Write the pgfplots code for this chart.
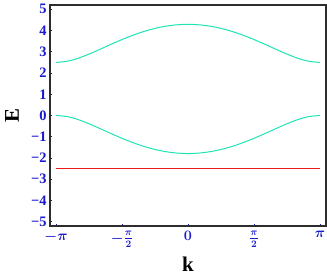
\documentclass[border=0pt]{standalone}
\usepackage{pgfplots}
\pgfplotsset{compat=1.18}
\usepackage{fontspec}
\setmainfont{Liberation Serif}
\definecolor{bandc}{RGB}{30,228,180}
\definecolor{bandr}{RGB}{232,30,30}
\definecolor{tickb}{RGB}{25,25,205}
\definecolor{framec}{RGB}{45,45,45}
\begin{document}
\begin{tikzpicture}
\useasboundingbox (-50bp,-54bp) rectangle (277bp,226bp);
\begin{axis}[
  at={(0,0)}, anchor=south west,
  scale only axis, width=276bp, height=221bp,
  xmin=-3.285, xmax=3.285, ymin=-5.2, ymax=5.2,
  axis line style={color=framec, line width=1.5pt},
  xtick={-3.14159,-1.5708,0,1.5708,3.14159},
  xticklabels={$-\pi$,$-\frac{\pi}{2}$,$0$,$\frac{\pi}{2}$,$\pi$},
  ytick={-5,-4,-3,-2,-1,0,1,2,3,4,5},
  yticklabels={−5,−4,−3,−2,−1,0,1,2,3,4,5},
  xtick pos=bottom, ytick pos=left,
  tick align=inside,
  major tick length=2.5pt,
  every tick/.style={tickb, line width=0.8pt},
  xticklabel style={font=\fontsize{14}{16}\selectfont\boldmath\bfseries, text=tickb, yshift=-2bp},
  yticklabel style={font=\fontsize{14.5}{16}\selectfont\bfseries, text=tickb},
  xlabel={\textbf{k}}, ylabel={\textbf{E}},
  label style={font=\fontsize{21}{23}\selectfont},
  xlabel style={at={(axis description cs:0.5,0)}, anchor=center, yshift=-38bp},
  ylabel style={at={(axis description cs:0,0.5)}, anchor=center, yshift=38bp},
  clip=false,
]
\addplot[bandc, line width=1pt, smooth] coordinates {
(-3.1416,2.499)(-2.8798,2.550)(-2.6180,2.690)(-2.3562,2.889)(-2.0944,3.116)(-1.8326,3.349)(-1.5708,3.574)(-1.3090,3.779)(-1.0472,3.956)(-0.7854,4.099)(-0.5236,4.204)(-0.2618,4.268)(0,4.290)
(0.2618,4.268)(0.5236,4.204)(0.7854,4.099)(1.0472,3.956)(1.3090,3.779)(1.5708,3.574)(1.8326,3.349)(2.0944,3.116)(2.3562,2.889)(2.6180,2.690)(2.8798,2.550)(3.1416,2.499)};
\addplot[bandc, line width=1pt, smooth] coordinates {
(-3.1416,0.001)(-2.8798,-0.050)(-2.6180,-0.190)(-2.3562,-0.389)(-2.0944,-0.616)(-1.8326,-0.849)(-1.5708,-1.074)(-1.3090,-1.279)(-1.0472,-1.456)(-0.7854,-1.599)(-0.5236,-1.704)(-0.2618,-1.768)(0,-1.790)
(0.2618,-1.768)(0.5236,-1.704)(0.7854,-1.599)(1.0472,-1.456)(1.3090,-1.279)(1.5708,-1.074)(1.8326,-0.849)(2.0944,-0.616)(2.3562,-0.389)(2.6180,-0.190)(2.8798,-0.050)(3.1416,0.001)};
\addplot[bandr, line width=1pt] coordinates {(-3.1416,-2.5)(3.1416,-2.5)};
\end{axis}
\end{tikzpicture}
\end{document}
